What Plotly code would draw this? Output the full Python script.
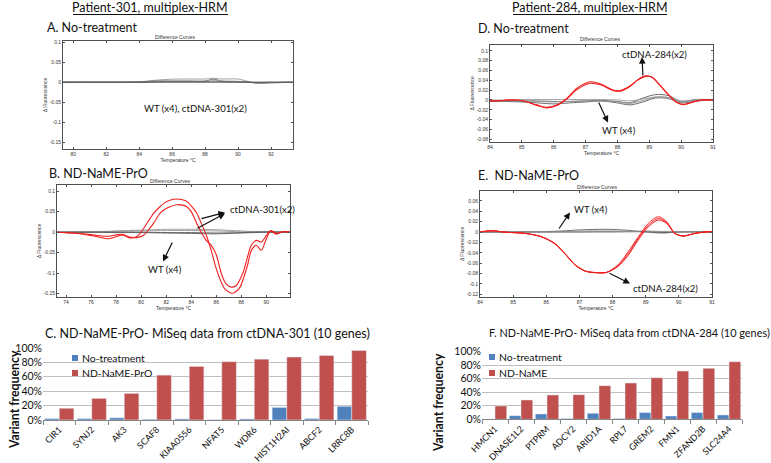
import plotly.graph_objects as go

# ---------------- data ----------------
# Panel A (Patient-301, no treatment) - difference curves
temp_A = [79.4, 81, 82.5, 84, 85, 86, 87, 88, 88.5, 89, 90, 90.6, 91.1, 92, 93.3]
A_wt1 = [0, 0, 0, 0.001, 0.005, 0.0075, 0.008, 0.008, 0.010, 0.008, 0.008, 0.002, -0.0025, -0.002, 0]
A_wt2 = [0, 0, 0, 0.0005, 0.003, 0.003, 0.003, 0.003, 0.0075, 0.003, 0.002, 0, -0.002, -0.001, 0]
A_wt3 = [0, 0, 0, 0, 0.001, 0.002, 0.002, 0.002, 0.004, 0.002, 0.001, 0, -0.001, -0.001, 0]
A_wt4 = [0, 0, 0, 0, 0.0005, 0.001, 0.001, 0.001, 0.001, 0.001, 0.0005, 0, 0, 0, 0]
A_ct1 = [0, 0, 0, 0, 0, 0, 0, 0, 0, 0, 0, 0, -0.0005, 0, 0]

# Panel B (Patient-301, ND-NaME-PrO)
temp_B = [73.3, 74.5, 75.4, 76.5, 77.4, 78.1, 78.5, 79.1, 79.7, 80.2, 80.7, 81.0, 81.5, 81.9,
          82.3, 82.85, 83.3, 83.65, 84.0, 84.45, 84.8, 85.25, 85.6, 86.0, 86.4, 86.7, 87.0,
          87.3, 87.6, 87.9, 88.2, 88.5, 88.8, 89.2, 89.6, 90.0, 90.35, 90.8, 91.35, 91.9]
B_ct1 = [0, -0.002, -0.005, -0.011, -0.016, -0.010, -0.0065, -0.014, -0.010, 0.009, 0.033, 0.046,
         0.062, 0.072, 0.078, 0.081, 0.079, 0.075, 0.064, 0.046, 0.022, -0.011, -0.045, -0.089,
         -0.122, -0.139, -0.146, -0.149, -0.144, -0.134, -0.11, -0.08, -0.045, -0.032, -0.044,
         -0.016, 0.003, -0.005, 0.0015, 0]
B_ct2 = [0, -0.002, -0.004, -0.008, -0.010, -0.006, -0.005, -0.012, -0.013, -0.0075, 0.010, 0.022,
         0.046, 0.056, 0.062, 0.067, 0.066, 0.062, 0.050, 0.021, 0.0, -0.022, -0.032, -0.055,
         -0.10, -0.122, -0.132, -0.134, -0.13, -0.115, -0.093, -0.06, -0.032, -0.02, -0.024,
         -0.008, 0.004, -0.003, 0.001, 0]
temp_Bg = [73.3, 76, 78, 80, 82, 84, 86, 88, 90, 91.9]
B_wt1 = [0, 0.001, 0.003, 0.005, 0.007, 0.007, 0.006, 0.003, 0.0, 0]
B_wt2 = [0, 0.0005, 0.002, 0.003, 0.004, 0.004, 0.003, 0.001, 0, 0]
B_wt3 = [0, 0, -0.001, -0.001, -0.002, -0.003, -0.004, -0.002, 0, 0]
B_wt4 = [0, 0, 0, 0, -0.001, -0.001, -0.002, -0.001, 0.001, 0]

# Panel D (Patient-284, no treatment)
temp_D = [84, 84.4, 84.73, 85.05, 85.47, 85.78, 86.1, 86.41, 86.73, 87.14, 87.46, 87.88, 88.09,
          88.4, 88.65, 88.9, 89.1, 89.24, 89.56, 89.87, 90.08, 90.39, 90.71, 91]
D_ct1 = [-0.002, -0.001, 0.0, -0.002, -0.010, -0.015, -0.010, 0.0034, 0.024, 0.037, 0.033, 0.020,
         0.019, 0.029, 0.042, 0.049, 0.046, 0.037, 0.0136, -0.0054, -0.0095, -0.004, 0.0, 0.0]
D_ct2 = [-0.002, -0.001, 0.0005, -0.002, -0.011, -0.016, -0.011, 0.002, 0.021, 0.034, 0.031, 0.019,
         0.018, 0.028, 0.041, 0.048, 0.046, 0.037, 0.014, -0.005, -0.009, -0.003, 0.001, 0.0]
temp_Dg = [84, 84.5, 85, 85.5, 86, 86.5, 87, 87.5, 88, 88.4, 88.8, 89.2, 89.6, 90, 90.5, 91]
D_wt1 = [-0.002, -0.003, -0.004, -0.006, -0.008, -0.006, -0.004, -0.002, -0.006, -0.010, -0.004, 0.004, 0.003, -0.006, -0.002, 0]
D_wt2 = [-0.003, -0.002, -0.002, -0.002, -0.003, -0.003, -0.002, -0.001, -0.003, -0.006, 0.004, 0.011, 0.009, -0.003, 0.001, 0]
D_wt3 = [0, 0, 0.001, 0.001, 0.001, 0.001, 0.001, 0.001, 0, -0.002, 0.002, 0.006, 0.005, -0.002, 0.001, 0.001]
D_wt4 = [-0.001, -0.002, -0.002, -0.003, -0.004, -0.003, -0.002, -0.002, -0.004, -0.007, -0.001, 0.006, 0.005, -0.004, 0, 0]

# Panel E (Patient-284, ND-NaME-PrO)
temp_E = [84, 84.35, 84.75, 85.36, 85.86, 86.26, 86.56, 86.87, 87.17, 87.47, 87.82, 88.17, 88.47,
          88.78, 89.08, 89.38, 89.63, 89.88, 90.13, 90.49, 90.89, 91]
E_ct1 = [0, 0.0026, -0.0003, -0.0026, -0.009, -0.022, -0.041, -0.063, -0.075, -0.078, -0.0776, -0.063,
         -0.038, -0.009, 0.0167, 0.0295, 0.020, -0.0026, -0.0077, -0.0026, 0.0005, 0.0]
E_ct2 = [0, 0.0024, -0.0003, -0.0027, -0.0095, -0.023, -0.042, -0.064, -0.0755, -0.0785, -0.078, -0.066,
         -0.045, -0.015, 0.010, 0.023, 0.0167, -0.003, -0.0077, -0.0026, 0.0005, 0]
E_ct3 = [0, 0.0025, -0.0003, -0.0026, -0.0092, -0.0225, -0.0415, -0.0635, -0.075, -0.078, -0.0778, -0.065,
         -0.042, -0.012, 0.013, 0.026, 0.0185, -0.0028, -0.0077, -0.0026, 0.0005, 0]
temp_Eg = [84, 85, 86, 86.5, 87, 87.5, 88, 88.5, 89, 89.5, 90, 91]
E_wt1 = [0, 0, 0.001, 0.002, 0.004, 0.005, 0.005, 0.003, 0.0, -0.002, 0, 0.001]
E_wt2 = [0, 0, 0.0005, 0.001, 0.002, 0.002, 0.002, 0.001, 0.0, 0.001, 0.001, 0]
E_wt3 = [0, 0, 0, 0, 0, 0.0005, 0.0005, 0.0005, 0.001, -0.001, 0.0, 0]
E_wt4 = [0, 0, 0, 0, 0, 0, 0, 0.001, 0.002, 0.001, 0, 0]

# Panel C (MiSeq ctDNA-301)
genes_C = ["CIR1", "SYNJ2", "AK3", "SCAF8", "KIAA0556", "NFAT5", "WDR6", "HIST1H2AI", "ABCF2", "LRRC8B"]
notreat_C = [0.02, 0.02, 0.03, 0.01, 0.015, 0.005, 0.015, 0.175, 0.02, 0.19]
ndname_C = [0.163, 0.30, 0.37, 0.623, 0.744, 0.81, 0.845, 0.875, 0.895, 0.965]

# Panel F (MiSeq ctDNA-284)
genes_F = ["HMCN1", "DNASE1L2", "PTPRM", "ADCY2", "ARID1A", "RPL7", "GREM2", "FMN1", "ZFAND2B", "SLC24A4"]
notreat_F = [0.005, 0.054, 0.079, 0.01, 0.089, 0.01, 0.099, 0.049, 0.099, 0.064]
ndname_F = [0.197, 0.286, 0.36, 0.365, 0.498, 0.537, 0.615, 0.714, 0.754, 0.852]

pct_ticks = [0, 0.2, 0.4, 0.6, 0.8, 1.0]
pct_labels = ["0%", "20%", "40%", "60%", "80%", "100%"]

# ---------------- figure ----------------
W, H = 771, 463
def px(x): return x / W
def py(y): return 1 - y / H

RED = "rgb(240,30,30)"
GRAY1 = "rgb(90,90,90)"
GRAY2 = "rgb(150,150,150)"
BLUE = "#4F81BD"
BRED = "#C0504D"
FONT = "Lato"

fig = go.Figure()

def line(x, y, ax, color, width=1.0):
    fig.add_trace(go.Scatter(x=x, y=y, mode="lines", line=dict(color=color, width=width, shape="spline", smoothing=0.8),
                             xaxis="x" + ax, yaxis="y" + ax, showlegend=False, hoverinfo="skip"))

# A
for yv, c in [(A_wt1, GRAY2), (A_wt2, GRAY1), (A_wt3, GRAY2), (A_wt4, GRAY1), (A_ct1, GRAY1)]:
    line(temp_A, yv, "", c, 0.9)
# B
for yv, c in [(B_wt1, GRAY2), (B_wt2, GRAY2), (B_wt3, GRAY1), (B_wt4, GRAY1)]:
    line(temp_Bg, yv, "2", c, 0.9)
line(temp_B, B_ct1, "2", RED, 1.1)
line(temp_B, B_ct2, "2", RED, 1.1)
# D
for yv, c in [(D_wt1, GRAY1), (D_wt2, GRAY1), (D_wt3, GRAY2), (D_wt4, GRAY2)]:
    line(temp_Dg, yv, "4", c, 0.9)
line(temp_D, D_ct1, "4", RED, 1.1)
line(temp_D, D_ct2, "4", RED, 1.1)
# E
for yv, c in [(E_wt1, GRAY1), (E_wt2, GRAY2), (E_wt3, GRAY1), (E_wt4, GRAY2)]:
    line(temp_Eg, yv, "5", c, 0.9)
line(temp_E, E_ct1, "5", RED, 1.0)
line(temp_E, E_ct2, "5", RED, 1.0)
line(temp_E, E_ct3, "5", RED, 1.0)

# bars
fig.add_trace(go.Bar(x=genes_C, y=notreat_C, marker_color=BLUE, xaxis="x3", yaxis="y3", showlegend=False))
fig.add_trace(go.Bar(x=genes_C, y=ndname_C, marker_color=BRED, xaxis="x3", yaxis="y3", showlegend=False))
fig.add_trace(go.Bar(x=genes_F, y=notreat_F, marker_color=BLUE, xaxis="x6", yaxis="y6", showlegend=False))
fig.add_trace(go.Bar(x=genes_F, y=ndname_F, marker_color=BRED, xaxis="x6", yaxis="y6", showlegend=False))

hrm = dict(showline=True, linecolor="#505050", linewidth=0.8, mirror="ticks", ticks="inside", ticklen=2,
           tickcolor="#505050", tickwidth=0.6, tickfont=dict(size=5, color="#333", family="Liberation Sans"),
           showgrid=False, zeroline=False, automargin=False)
tfont = dict(size=5, color="#333", family="Liberation Sans")

def hx(dom, rng, tv, anchor):
    d = dict(hrm)
    d.update(domain=dom, range=rng, tickvals=tv, ticktext=[str(v) for v in tv], anchor=anchor,
             title=dict(text="Temperature °C", font=tfont, standoff=1))
    return d

def hy(dom, rng, tv, tt, anchor):
    d = dict(hrm)
    d.update(domain=dom, range=rng, tickvals=tv, ticktext=tt, anchor=anchor,
             title=dict(text="Δ Fluorescence", font=tfont, standoff=1))
    return d

yt1 = [0.1, 0.05, 0, -0.05, -0.1, -0.15]
yt1l = ["0.1", "0.05", "0", "-0.05", "-0.1", "-0.15"]
ytD = [0.1, 0.08, 0.06, 0.04, 0.02, 0, -0.02, -0.04, -0.06, -0.08]
ytDl = ["0.1", "0.08", "0.06", "0.04", "0.02", "0", "-0.02", "-0.04", "-0.06", "-0.08"]
ytE = [0.06, 0.04, 0.02, 0, -0.02, -0.04, -0.06, -0.08, -0.1, -0.12]
ytEl = ["0.06", "0.04", "0.02", "0", "-0.02", "-0.04", "-0.06", "-0.08", "-0.1", "-0.12"]

bar_x = dict(type="category", showline=True, linecolor="#868686", linewidth=1, ticks="outside", ticklen=4,
             tickcolor="#868686", tickson="boundaries", showgrid=False, tickangle=-45, automargin=False,
             tickfont=dict(size=8.9, color="#111", family=FONT))
bar_y = dict(range=[0, 1], tickvals=pct_ticks, ticktext=pct_labels, showgrid=True, gridcolor="#bfbfbf",
             gridwidth=0.8, zeroline=False, showline=False, ticks="", automargin=False,
             tickfont=dict(size=10.5, color="#111", family=FONT))

fig.update_layout(
    width=W, height=H, margin=dict(l=0, r=0, t=0, b=0, autoexpand=False), paper_bgcolor="white", plot_bgcolor="white",
    barmode="group", bargap=0.1, bargroupgap=0.0, showlegend=False,
    xaxis=hx([px(63), px(293)], [79.38, 93.33], [80, 82, 84, 86, 88, 90, 92], "y"),
    yaxis=hy([py(149), py(41)], [-0.167, 0.103], yt1, yt1l, "x"),
    xaxis2=hx([px(57), px(290)], [73.28, 91.89], [74, 76, 78, 80, 82, 84, 86, 88, 90], "y2"),
    yaxis2=hy([py(297), py(185)], [-0.158, 0.115], yt1, yt1l, "x2"),
    xaxis4=hx([px(490), px(713)], [84, 91], [84, 85, 86, 87, 88, 89, 90, 91], "y4"),
    yaxis4=hy([py(141.7), py(45)], [-0.085, 0.112], ytD, ytDl, "x4"),
    xaxis5=hx([px(480), px(712)], [84, 91], [84, 85, 86, 87, 88, 89, 90, 91], "y5"),
    yaxis5=hy([py(296.7), py(191)], [-0.1246, 0.079], ytE, ytEl, "x5"),
    xaxis3=dict(bar_x, domain=[px(43), px(368)], anchor="y3"),
    yaxis3=dict(bar_y, domain=[py(420), py(348)], anchor="x3"),
    xaxis6=dict(bar_x, domain=[px(482), px(742)], anchor="y6"),
    yaxis6=dict(bar_y, domain=[py(419.3), py(351.7)], anchor="x6"),
)

ann = []
def text(x, y, s, size=12, xanchor="center", bold=False, angle=0, family=FONT, color="#111"):
    ann.append(dict(x=px(x), y=py(y), xref="paper", yref="paper", text=("<b>%s</b>" % s) if bold else s,
                    showarrow=False, xanchor=xanchor, yanchor="middle", textangle=angle,
                    font=dict(size=size, family=family, color=color)))

def arrow(hx_, hy_, tx, ty):
    ann.append(dict(x=px(hx_), y=py(hy_), xref="paper", yref="paper", ax=tx - hx_, ay=ty - hy_,
                    axref="pixel", ayref="pixel", text="", showarrow=True, arrowhead=2, arrowsize=1.1,
                    arrowwidth=1.2, arrowcolor="#111"))

HS = 12.5
# headings
text(150, 8, "Patient-301, multiplex-HRM", HS)
text(590, 8, "Patient-284, multiplex-HRM", HS)
text(45, 27, "A. No-treatment", HS, "left")
text(476, 28, "D. No-treatment", HS, "left")
text(47, 173, "B. ND-NaME-PrO", HS, "left")
text(476, 175, "E.  ND-NaME-PrO", HS, "left")
text(43, 333, "C. ND-NaME-PrO- MiSeq data from ctDNA-301 (10 genes)", HS, "left")
text(487, 332, "F. ND-NaME-PrO- MiSeq data from ctDNA-284 (10 genes)", 10.9, "left")

# small plot titles
text(175, 37, "Difference Curves", 5, family="Liberation Sans", color="#333")
text(170, 181, "Difference Curves", 5, family="Liberation Sans", color="#333")
text(600, 39, "Difference Curves", 5, family="Liberation Sans", color="#333")
text(597, 187, "Difference Curves", 5, family="Liberation Sans", color="#333")

AS = 9.6
# curve annotations
text(195, 109, "WT (x4), ctDNA-301(x2)", AS)
text(228, 209, "ctDNA-301(x2)", AS, "left")
text(165, 269, "WT (x4)", AS)
text(654, 54, "ctDNA-284(x2)", AS)
text(619, 130, "WT (x4)", AS)
text(572, 209, "WT (x4)", AS, "left")
text(631, 288, "ctDNA-284(x2)", AS, "left")

arrow(225, 212.5, 200, 219)
arrow(225, 213.5, 196, 229)
arrow(163, 261.5, 173, 241)
arrow(642, 57, 643, 77)
arrow(608, 122.5, 598, 101)
arrow(570, 212.5, 558, 230)
arrow(630, 283.5, 608, 272.5)

# y axis titles for bar charts
text(14, 400, "Variant frequency", 12.3, bold=True, angle=-90)
text(438, 403, "Variant frequency", 12.3, bold=True, angle=-90)

# legends
LS = 10.4
text(80, 358, "No-treatment", LS, "left")
text(80, 373, "ND-NaME-PrO", LS, "left")
text(497, 357, "No-treatment", LS, "left")
text(497, 373, "ND-NaME", LS, "left")

shapes = []
def sq(cx, cy, col):
    shapes.append(dict(type="rect", xref="paper", yref="paper", x0=px(cx - 3), x1=px(cx + 3),
                       y0=py(cy + 3), y1=py(cy - 3), fillcolor=col, line=dict(width=0)))
sq(75, 358, BLUE); sq(75, 373, BRED)
sq(492, 357, BLUE); sq(492, 373, BRED)
# underlines for headings
for x0, x1 in [(73, 228), (513, 667)]:
    shapes.append(dict(type="line", xref="paper", yref="paper", x0=px(x0), x1=px(x1), y0=py(14.5), y1=py(14.5),
                       line=dict(color="#111", width=1)))

fig.update_layout(annotations=ann, shapes=shapes)
fig.write_html("out.html", config={"displayModeBar": False},
               post_script="document.body.style.margin='0';document.body.style.overflow='hidden';")
